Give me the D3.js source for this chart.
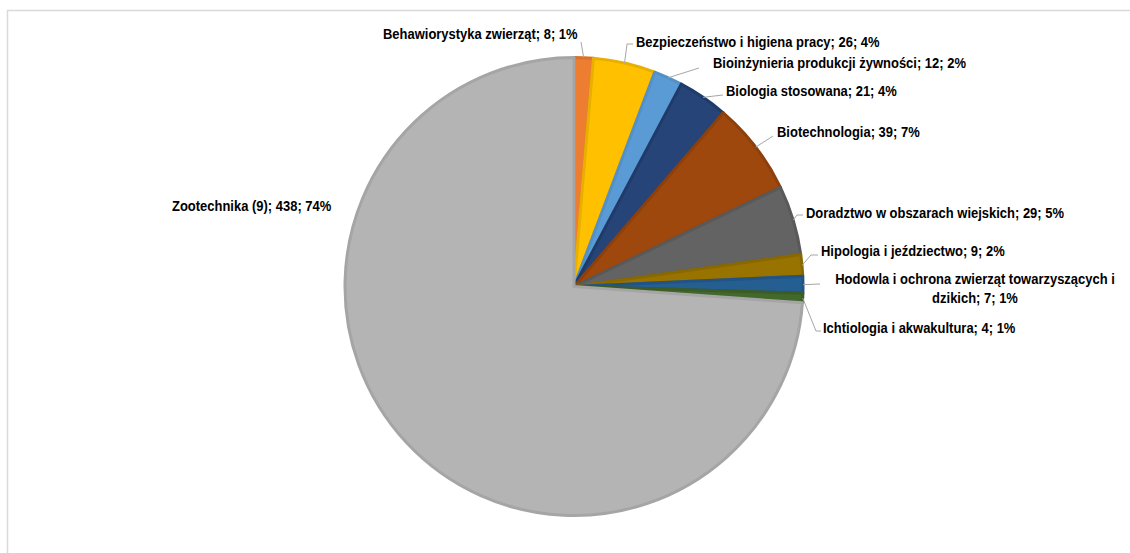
<!DOCTYPE html>
<html>
<head>
<meta charset="utf-8">
<script src="https://cdn.jsdelivr.net/npm/d3@7"></script>
<style>
  html, body { margin: 0; padding: 0; background: #fff; }
  svg { display: block; }
  .lbl { font-family: "Liberation Sans", Arial, sans-serif; font-weight: bold; font-size: 15px; fill: #000; }
</style>
</head>
<body>
<svg id="chart" width="1130" height="553"></svg>
<script>
// Kierunki studiów – liczba osób
const categories = [
  "Behawiorystyka zwierząt",
  "Bezpieczeństwo i higiena pracy",
  "Bioinżynieria produkcji żywności",
  "Biologia stosowana",
  "Biotechnologia",
  "Doradztwo w obszarach wiejskich",
  "Hipologia i jeździectwo",
  "Hodowla i ochrona zwierząt towarzyszących i dzikich",
  "Ichtiologia i akwakultura",
  "Zootechnika (9)"
];
const values = [8, 26, 12, 21, 39, 29, 9, 7, 4, 438];
const percentLabels = ["1%", "4%", "2%", "4%", "7%", "5%", "2%", "1%", "1%", "74%"];
const colors = ["#ED7D31", "#FFC000", "#5B9BD5", "#264478", "#9E480E", "#636363", "#997300", "#255E91", "#43682B", "#B4B4B4"];
const strokes = ["#D8712B", "#E8AF00", "#5390C6", "#1F3B69", "#8E400C", "#595959", "#8A6800", "#215485", "#3B5C26", "#A5A5A5"];

// label placement: text origin, anchor and leader elbow points
const labelLayout = [
  { x: 383, y: 39, anchor: "start", leader: [[581, 42]] },
  { x: 636, y: 47, anchor: "start", leader: [[627, 44], [633, 44]] },
  { x: 713, y: 68, anchor: "start", leader: [[699, 68]] },
  { x: 726, y: 96, anchor: "start", leader: [[723, 95]] },
  { x: 777, y: 137, anchor: "start", leader: [[773, 136]] },
  { x: 806, y: 218, anchor: "start", leader: [[797, 215], [803, 215]] },
  { x: 821, y: 256, anchor: "start", leader: [[811, 255], [818, 255]] },
  { x: 975, y: 284, anchor: "middle", leader: [[820, 284]], wrapAt: "towarzyszących i" },
  { x: 823, y: 333, anchor: "start", leader: [[816, 331], [821, 331]] },
  { x: 172, y: 211, anchor: "start", leader: [] }
];

const width = 1130, height = 553;
const cx = 574, cy = 286.5, radius = 229;
const narrow = 0.865; // condensed label face

const svg = d3.select("#chart");

// chart area frame
svg.append("rect")
  .attr("x", 7.5).attr("y", 10.5)
  .attr("width", width + 10).attr("height", height + 10)
  .attr("fill", "none").attr("stroke", "#d9d9d9").attr("stroke-width", 1.5);

const data = categories.map((c, i) => ({ name: c, value: values[i], pct: percentLabels[i], i }));

const pie = d3.pie().value(d => d.value).sort(null);
const arcs = pie(data);
const arc = d3.arc().innerRadius(0).outerRadius(radius);

const g = svg.append("g").attr("transform", `translate(${cx},${cy})`);

g.selectAll("path.slice")
  .data(arcs)
  .join("path")
  .attr("class", "slice")
  .attr("d", arc)
  .attr("fill", d => colors[d.data.i])
  .attr("stroke", d => strokes[d.data.i])
  .attr("stroke-width", 3)
  .attr("stroke-linejoin", "round");

// leader lines from slice edge to label
const line = d3.line();
arcs.forEach((a, k) => {
  const lay = labelLayout[k];
  if (!lay.leader.length) return;
  const mid = (a.startAngle + a.endAngle) / 2;
  const ex = cx + radius * Math.sin(mid);
  const ey = cy - radius * Math.cos(mid);
  svg.append("path")
    .attr("d", line([[ex, ey], ...lay.leader]))
    .attr("fill", "none")
    .attr("stroke", "#A6A6A6")
    .attr("stroke-width", 1);
});

// labels: "nazwa; wartość; procent"
arcs.forEach((a, k) => {
  const lay = labelLayout[k];
  const d = a.data;
  const full = `${d.name}; ${d.value}; ${d.pct}`;
  const t = svg.append("text")
    .attr("class", "lbl")
    .attr("transform", `translate(${lay.x},${lay.y}) scale(${narrow},1)`)
    .attr("text-anchor", lay.anchor);
  if (lay.wrapAt) {
    const cut = full.indexOf(lay.wrapAt) + lay.wrapAt.length;
    t.append("tspan").attr("x", 0).attr("dy", 0).text(full.slice(0, cut));
    t.append("tspan").attr("x", 0).attr("dy", 19).text(full.slice(cut).trim());
  } else {
    t.text(full);
  }
});
</script>
</body>
</html>
